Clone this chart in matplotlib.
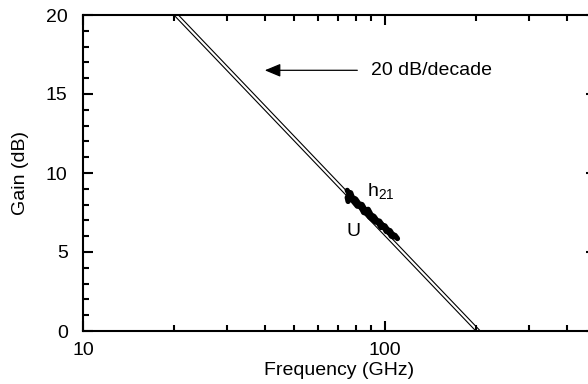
import numpy as np
import matplotlib.pyplot as plt
from matplotlib.ticker import MultipleLocator, LogLocator, NullFormatter, FixedFormatter, FixedLocator

plt.rcParams.update({
    "font.family": "Liberation Sans",
    "mathtext.fontset": "custom",
    "mathtext.rm": "Liberation Sans",
    "font.size": 14,
})

# 20 dB/decade asymptotes (end points)
asym_freq = [10, 500]
asym_ft_a = 200.0   # GHz where line a crosses 0 dB
asym_ft_b = 207.0   # GHz where line b crosses 0 dB

# measured h21 and U
h21_freq = [75, 76, 77, 78, 80, 82, 84, 86, 88, 90, 92, 94, 96, 98, 100, 102, 104, 106, 108, 110]
h21_gain = [8.9, 8.7, 8.75, 8.45, 8.35, 8.05, 8.0, 7.65, 7.7, 7.35, 7.25, 7.0, 6.95, 6.7, 6.65, 6.4, 6.35, 6.1, 6.05, 5.85]
u_freq = [75.5, 75, 76, 77.5, 79, 81, 83, 85, 87, 89, 91, 93, 95, 97, 99, 101, 103, 105, 107]
u_gain = [8.2, 8.45, 8.6, 8.35, 8.15, 7.9, 7.9, 7.5, 7.45, 7.2, 7.05, 6.9, 6.85, 6.55, 6.6, 6.3, 6.25, 6.0, 5.95]

fig = plt.figure(figsize=(5.88, 3.84), dpi=100)
ax = fig.add_axes([83 / 588, 53 / 384, 513 / 588, 316 / 384])

f = np.array(asym_freq, dtype=float)
ax.plot(f, 20 * np.log10(asym_ft_a / f), color="black", lw=0.8)
ax.plot(f, 20 * np.log10(asym_ft_b / f), color="black", lw=0.8)

ax.plot(h21_freq, h21_gain, color="black", lw=3.8, solid_capstyle="round", solid_joinstyle="round")
ax.plot(u_freq, u_gain, color="black", lw=3.8, solid_capstyle="round", solid_joinstyle="round")

ax.text(87.5, 8.8, "h$_{21}$", ha="left", va="center")
ax.text(74.5, 6.3, "U", ha="left", va="center")

ax.annotate("", xy=(40, 16.5), xytext=(81, 16.5),
            arrowprops=dict(arrowstyle="-|>,head_length=0.6,head_width=0.25", color="black", lw=0.9,
                            mutation_scale=16, shrinkA=0, shrinkB=0))
ax.text(90, 16.5, "20 dB/decade", ha="left", va="center")

ax.set_xscale("log")
ax.set_xlim(10, 500)
ax.set_ylim(0, 20)
ax.xaxis.set_major_locator(FixedLocator([10, 100]))
ax.xaxis.set_major_formatter(FixedFormatter(["10", "100"]))
ax.xaxis.set_minor_locator(LogLocator(base=10, subs=np.arange(2, 10)))
ax.xaxis.set_minor_formatter(NullFormatter())
ax.yaxis.set_major_locator(MultipleLocator(5))
ax.yaxis.set_minor_locator(MultipleLocator(1))

for s in ax.spines.values():
    s.set_linewidth(1.5)
ax.tick_params(which="both", direction="in", top=True, right=True, width=1.5)
ax.tick_params(which="major", length=7)
ax.tick_params(which="minor", length=4.5)
ax.tick_params(axis="y", pad=11)
ax.tick_params(axis="x", pad=8)

ax.set_xlabel("Frequency (GHz)", labelpad=2)
ax.set_ylabel("Gain (dB)", labelpad=12)

fig.savefig("out.png", dpi=100)
